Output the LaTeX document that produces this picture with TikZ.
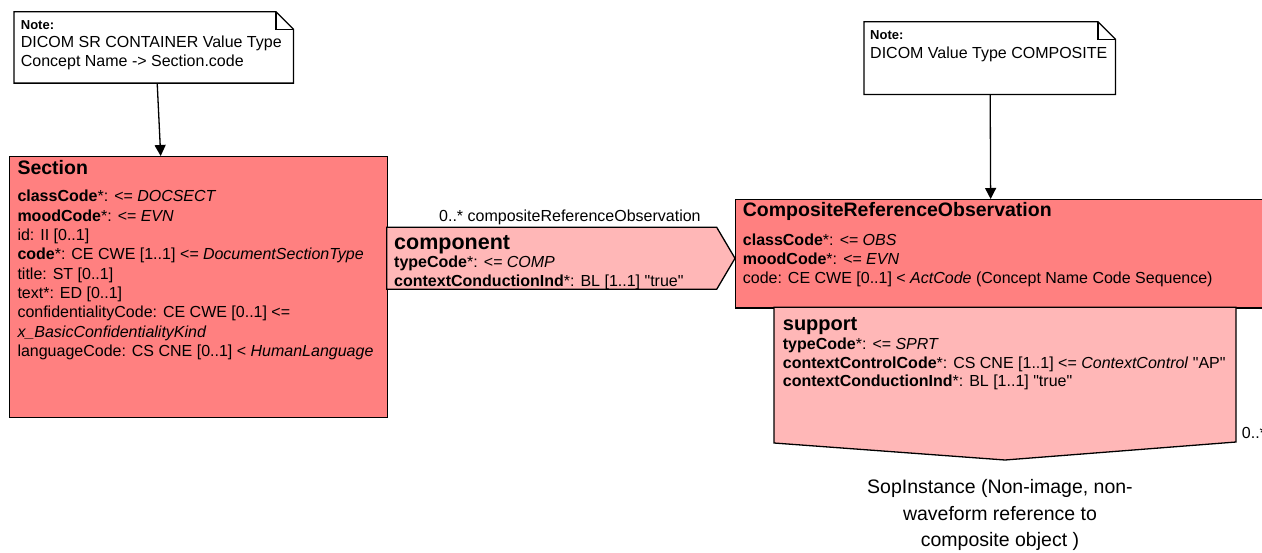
\documentclass[tikz,border=0pt]{standalone}
\usepackage{fontspec}
\setmainfont{Liberation Sans}[Ligatures=TeXOff]
\usetikzlibrary{arrows.meta}
\definecolor{clsred}{HTML}{FF8080}
\definecolor{assocpink}{HTML}{FFB7B7}
\newcommand\txtlines[5]{%
  \foreach \lineT [count=\k from 0] in {#5} {
    \node[anchor=base west, inner sep=0pt] (#1-\k) at (#2, #3+\k*#4) {\lineT};
  }}
\begin{document}
\begin{tikzpicture}[x=1pt,y=-1pt,
  outline/.style={draw=black, line width=1.3pt, line join=miter},
  classbox/.style={outline, fill=clsred},
  assoc/.style={outline, fill=assocpink},
  notebox/.style={outline, fill=white},
  frame/.style={inner sep=0pt, anchor=north west},
  conn/.style={line width=1.3pt, -{Triangle[width=11pt,length=11pt]}},
  titlefont/.style={font=\fontsize{19.5}{23}\selectfont\bfseries},
  attrfont/.style={font=\fontsize{16}{19}\selectfont},
]
\useasboundingbox (0,0) rectangle (1262,552);

% ---------- frames (named) ----------
\node[frame, minimum width=279pt, minimum height=71pt] (note1) at (14,11.7) {};
\node[frame, minimum width=251pt, minimum height=72.3pt] (note2) at (864,21.7) {};
\node[frame, classbox, minimum width=377.7pt, minimum height=260.7pt] (section) at (9,156) {};
\node[frame, classbox, minimum width=530pt, minimum height=108.3pt] (cro) at (735,199) {};

% ---------- notes ----------
\draw[notebox] (note1.north west) -- ([xshift=-17.5pt]note1.north east)
  -- ([yshift=-17.5pt]note1.north east) -- (note1.south east) -- (note1.south west) -- cycle;
\draw[outline] ([xshift=-17.5pt]note1.north east) -- ([xshift=-17.5pt,yshift=-17.5pt]note1.north east)
  -- ([yshift=-17.5pt]note1.north east);
\draw[notebox] (note2.north west) -- ([xshift=-17.5pt]note2.north east)
  -- ([yshift=-17.5pt]note2.north east) -- (note2.south east) -- (note2.south west) -- cycle;
\draw[outline] ([xshift=-17.5pt]note2.north east) -- ([xshift=-17.5pt,yshift=-17.5pt]note2.north east)
  -- ([yshift=-17.5pt]note2.north east);

% ---------- association shapes ----------
\coordinate (cA) at (386.7,227.3);
\coordinate (cB) at (716.7,227.3);
\coordinate (cP) at (735,258.3);
\coordinate (cC) at (716.7,289.3);
\coordinate (cD) at (386.7,289.3);
\draw[assoc] (cA) -- (cB) -- (cP) -- (cC) -- (cD) -- cycle;

\coordinate (sA) at (774,307.3);
\coordinate (sB) at (1236,307.3);
\coordinate (sC) at (1236,442);
\coordinate (sP) at (1005,460);
\coordinate (sD) at (774,443);
\draw[assoc] (sA) -- (sB) -- (sC) -- (sP) -- (sD) -- cycle;

% ---------- connectors ----------
\draw[conn] ([xshift=3.5pt]note1.south) -- ([xshift=-37.8pt]section.north);
\draw[conn] ([xshift=0.5pt]note2.south) -- ([xshift=-10pt]cro.north);

% ---------- texts ----------
\begin{scope}[font=\fontsize{13}{16}\selectfont\bfseries]
  \node[anchor=base west, inner sep=0pt] (n1h) at (20.7,29.3) {Note:};
  \node[anchor=base west, inner sep=0pt] (n2h) at (870,39.3) {Note:};
\end{scope}
\begin{scope}[attrfont]
  \txtlines{n1}{20.7}{47.7}{18.4}{DICOM SR CONTAINER Value Type, {Concept Name -> Section.code}}
  \txtlines{n2}{870}{58}{18.4}{DICOM Value Type COMPOSITE}
\end{scope}

% Section
\node[titlefont, anchor=base west, inner sep=0pt] (sect-title) at (17.3,174) {Section};
\begin{scope}[attrfont]
  \txtlines{sect}{17.3}{201.7}{19.35}{%
    {\textbf{classCode}*: \textit{<= DOCSECT}},
    {\textbf{moodCode}*: \textit{<= EVN}},
    {id: II [0..1]},
    {\textbf{code}*: CE CWE [1..1] \textit{<= DocumentSectionType}},
    {title: ST [0..1]},
    {text*: ED [0..1]},
    {confidentialityCode: CE CWE [0..1] <=},
    {\textit{x\_BasicConfidentialityKind}},
    {languageCode: CS CNE [0..1] < \textit{HumanLanguage}}}
\end{scope}

% component
\node[attrfont, anchor=base west, inner sep=0pt] (comp-label) at (439,221.7) {0..* compositeReferenceObservation};
\node[font=\fontsize{21.5}{24}\selectfont\bfseries, anchor=base west, inner sep=0pt] (comp-title) at (394,249.3) {component};
\begin{scope}[attrfont]
  \txtlines{comp}{394}{267.6}{18.4}{%
    {\textbf{typeCode}*: \textit{<= COMP}},
    {\textbf{contextConductionInd}*: BL [1..1] "true"}}
\end{scope}

% CompositeReferenceObservation
\node[titlefont, anchor=base west, inner sep=0pt] (cro-title) at (742.7,216) {CompositeReferenceObservation};
\begin{scope}[attrfont]
  \txtlines{crol}{742.7}{245}{19.2}{%
    {\textbf{classCode}*: \textit{<= OBS}},
    {\textbf{moodCode}*: \textit{<= EVN}},
    {code: CE CWE [0..1] < \textit{ActCode} (Concept Name Code Sequence)}}
\end{scope}

% support
\node[font=\fontsize{20}{24}\selectfont\bfseries, anchor=base west, inner sep=0pt] (sup-title) at (782.7,330) {support};
\begin{scope}[attrfont]
  \txtlines{sup}{782.7}{349.5}{18.5}{%
    {\textbf{typeCode}*: \textit{<= SPRT}},
    {\textbf{contextControlCode}*: CS CNE [1..1] <= \textit{ContextControl} "AP"},
    {\textbf{contextConductionInd}*: BL [1..1] "true"}}
  \node[anchor=base west, inner sep=0pt] (sup-mult) at (1241.7,438) {0..*};
\end{scope}

% target label
\begin{scope}[font=\fontsize{19.5}{27}\selectfont]
  \node[anchor=base, inner sep=0pt] (sop-0) at (1000,493.5) {SopInstance (Non-image, non-};
  \node[anchor=base, inner sep=0pt] (sop-1) at (1000,520) {waveform reference to};
  \node[anchor=base, inner sep=0pt] (sop-2) at (1000,546.5) {composite object )};
\end{scope}
\end{tikzpicture}
\end{document}
